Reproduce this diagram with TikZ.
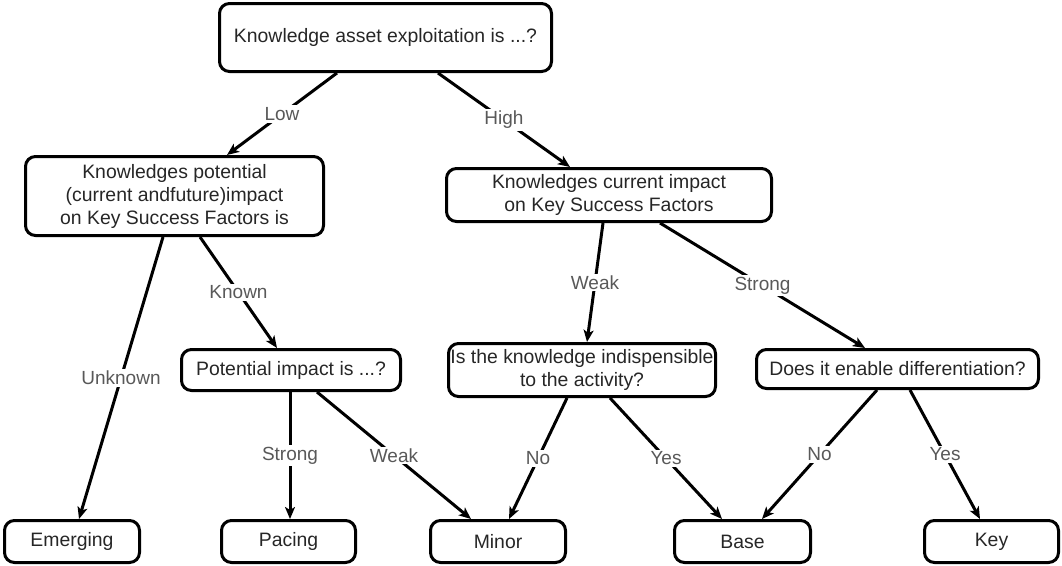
\documentclass[tikz,border=0pt]{standalone}
\usepackage{fontspec}
\setmainfont{Liberation Sans}
\usetikzlibrary{arrows.meta}
\begin{document}
\begin{tikzpicture}[x=1pt,y=-1pt,
  box/.style={draw=black, line width=3pt, rounded corners=10pt, inner sep=0pt,
    align=center, font=\fontsize{19.4}{23}\selectfont, text=black!85},
  conn/.style={line width=3pt, -{Stealth[length=12pt,width=10pt,inset=3pt]}},
  lbl/.style={fill=white, inner sep=2pt, text=black!65, font=\fontsize{19}{22}\selectfont}]
\useasboundingbox (0,0) rectangle (1062,565);
\node[box, minimum width=332pt, minimum height=68pt] (top) at (385.5,37.5) {Knowledge asset exploitation is ...?};
\node[box, minimum width=298pt, minimum height=79pt] (b2) at (174.5,196) {Knowledges potential\\(current andfuture)impact\\on Key Success Factors is};
\node[box, minimum width=325pt, minimum height=53pt] (b3) at (609,195) {Knowledges current impact\\on Key Success Factors};
\node[box, minimum width=219pt, minimum height=41pt] (b4) at (291,370) {Potential impact is ...?};
\node[box, minimum width=267pt, minimum height=53pt] (b5) at (582,370) {Is the knowledge indispensible\\to the activity?};
\node[box, minimum width=282pt, minimum height=39pt] (b6) at (897.5,369) {Does it enable differentiation?};
\node[box, minimum width=135pt, minimum height=42pt] (emerg) at (72,541.5) {Emerging};
\node[box, minimum width=134pt, minimum height=42pt] (pacing) at (288.5,541.5) {Pacing};
\node[box, minimum width=135pt, minimum height=42pt] (minor) at (498,541.5) {Minor};
\node[box, minimum width=136pt, minimum height=42pt] (base) at (742.5,541.5) {Base};
\node[box, minimum width=134pt, minimum height=42pt] (key) at (991.5,541.5) {Key};

\draw[conn] ([xshift=-48.5pt]top.south) -- node[lbl] {Low} ([xshift=52.5pt]b2.north);
\draw[conn] ([xshift=52.5pt]top.south) -- node[lbl] {High} ([xshift=-39pt]b3.north);
\draw[conn] ([xshift=-11.5pt]b2.south) -- node[lbl] {Unknown} ([xshift=7pt]emerg.north);
\draw[conn] ([xshift=25.5pt]b2.south) -- node[lbl] {Known} ([xshift=-14pt]b4.north);
\draw[conn] ([xshift=-6pt]b3.south) -- node[lbl] {Weak} ([xshift=5pt]b5.north);
\draw[conn] ([xshift=51pt]b3.south) -- node[lbl] {Strong} ([xshift=-32.5pt]b6.north);
\draw[conn] ([xshift=-1pt]b4.south) -- node[lbl] {Strong} ([xshift=1.5pt]pacing.north);
\draw[conn] ([xshift=26pt]b4.south) -- node[lbl] {Weak} ([xshift=-27pt]minor.north);
\draw[conn] ([xshift=-15pt]b5.south) -- node[lbl] {No} ([xshift=11pt]minor.north);
\draw[conn] ([xshift=28pt]b5.south) -- node[lbl] {Yes} ([xshift=-20.5pt]base.north);
\draw[conn] ([xshift=-20.5pt]b6.south) -- node[lbl] {No} ([xshift=19.5pt]base.north);
\draw[conn] ([xshift=12.5pt]b6.south) -- node[lbl] {Yes} ([xshift=-11.5pt]key.north);
\end{tikzpicture}
\end{document}
